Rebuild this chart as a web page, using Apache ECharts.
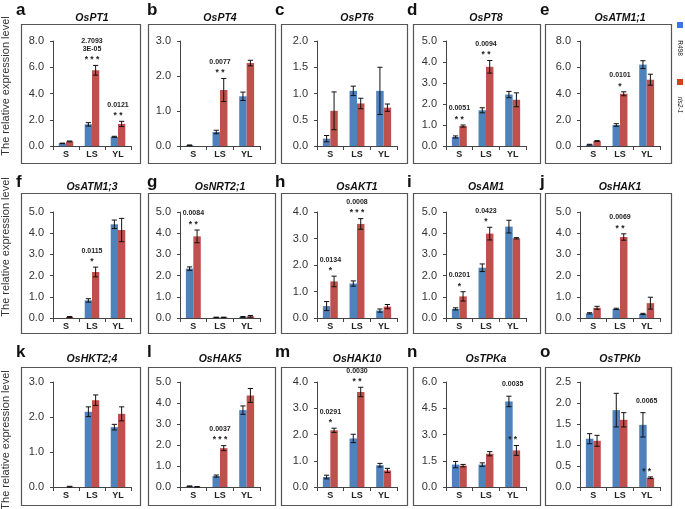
<!DOCTYPE html>
<html><head><meta charset="utf-8">
<script src="https://cdn.jsdelivr.net/npm/echarts@6/dist/echarts.min.js"></script>
<style>html,body{margin:0;padding:0;background:#fff}#c{width:685px;height:509px}</style>
</head><body><div id="c"></div>
<script>
const categories = ['S', 'LS', 'YL'];
const seriesNames = ['R498', 'rls2-1'];
const panelLetters = ['a','b','c','d','e','f','g','h','i','j','k','l','m','n','o'];
const geneNames = ['OsPT1','OsPT4','OsPT6','OsPT8','OsATM1;1','OsATM1;3','OsNRT2;1','OsAKT1','OsAM1','OsHAK1','OsHKT2;4','OsHAK5','OsHAK10','OsTPKa','OsTPKb'];
const yTitle = 'The relative expression level';

const r498Mean = [
  [0.20, 1.65, 0.70],
  [0.02, 0.40, 1.42],
  [0.14, 1.05, 1.05],
  [0.43, 1.70, 2.45],
  [0.10, 1.60, 6.20],
  [0.00, 0.83, 4.42],
  [2.33, 0.03, 0.05],
  [0.45, 1.30, 0.28],
  [0.43, 2.37, 4.31],
  [0.22, 0.43, 0.19],
  [0.00, 2.15, 1.71],
  [0.04, 0.52, 3.66],
  [0.38, 1.85, 0.83],
  [1.28, 1.28, 4.89],
  [1.15, 1.83, 1.48]
];
const r498Err = [
  [0.02, 0.13, 0.04],
  [0.01, 0.05, 0.12],
  [0.06, 0.09, 0.45],
  [0.05, 0.12, 0.15],
  [0.03, 0.10, 0.30],
  [0.00, 0.08, 0.20],
  [0.08, 0.01, 0.02],
  [0.17, 0.10, 0.06],
  [0.05, 0.18, 0.30],
  [0.03, 0.03, 0.03],
  [0.00, 0.14, 0.08],
  [0.01, 0.05, 0.20],
  [0.07, 0.16, 0.07],
  [0.18, 0.10, 0.30],
  [0.12, 0.40, 0.29]
];
const rls21Mean = [
  [0.35, 5.77, 1.68],
  [0.00, 1.60, 2.37],
  [0.67, 0.81, 0.73],
  [0.95, 3.77, 2.20],
  [0.38, 3.98, 5.05],
  [0.05, 2.17, 4.15],
  [3.85, 0.03, 0.08],
  [1.38, 3.55, 0.43],
  [1.02, 3.98, 3.76],
  [0.48, 3.82, 0.70],
  [0.01, 2.48, 2.09],
  [0.01, 1.85, 4.36],
  [2.16, 3.62, 0.63],
  [1.22, 1.90, 2.09],
  [1.10, 1.60, 0.22]
];
const rls21Err = [
  [0.03, 0.37, 0.20],
  [0.00, 0.33, 0.08],
  [0.36, 0.10, 0.07],
  [0.05, 0.30, 0.33],
  [0.03, 0.15, 0.42],
  [0.02, 0.23, 0.55],
  [0.30, 0.01, 0.04],
  [0.20, 0.20, 0.08],
  [0.22, 0.30, 0.03],
  [0.07, 0.15, 0.28],
  [0.01, 0.15, 0.20],
  [0.01, 0.12, 0.33],
  [0.08, 0.18, 0.08],
  [0.07, 0.12, 0.28],
  [0.13, 0.17, 0.02]
];
const yMax  = [8, 3, 2, 5, 8, 5, 5, 4, 5, 5, 3, 5, 4, 6, 2.5];
const yStep = [2, 1, 0.5, 1, 2, 1, 1, 1, 1, 1, 1, 1, 1, 1.5, 0.5];
// [panel, category index, p value (lines), stars]
const significance = [
  [0, 1, ['2.7093', '3E-05'], '* * *'],
  [0, 2, ['0.0121'], '* *'],
  [1, 1, ['0.0077'], '* *'],
  [3, 0, ['0.0051'], '* *'],
  [3, 1, ['0.0094'], '* *'],
  [4, 1, ['0.0101'], '*'],
  [5, 1, ['0.0115'], '*'],
  [6, 0, ['0.0084'], '* *'],
  [7, 0, ['0.0134'], '*'],
  [7, 1, ['0.0008'], '* * *'],
  [8, 0, ['0.0201'], '*'],
  [8, 1, ['0.0423'], '*'],
  [9, 1, ['0.0069'], '* *'],
  [11, 1, ['0.0037'], '* * *'],
  [12, 0, ['0.0291'], '*'],
  [12, 1, ['0.0030'], '* *'],
  [13, 2, ['0.0035'], '* *'],
  [14, 2, ['0.0065'], '* *']
];

// ---- layout / style ----
const FONT = '"Liberation Sans", Arial, sans-serif';
const INK = '#222';
const barColors = ['#4f81bd', '#c0504d'];
const legendColors = ['#3a76e3', '#d0441d'];
const colAxisLeft = [53, 180, 317, 446, 580];
const colAxisWidth = [78, 80, 80, 80, 80];
const rowTop = [41, 212, 382];
const rowBottom = [146, 318, 487];
const boxCols = [[21, 140], [148, 275], [281, 407], [413, 540], [545, 671]];
const boxRows = [[24, 163], [193, 333], [367, 505]];
const letterX = [16, 147, 275, 407, 540];
const letterY = [10, 182, 352];
const titleY = [18.5, 187, 359];
const yTitleY = [86, 247, 440];

const grids = [], xAxes = [], yAxes = [], series = [], graphics = [];

for (let i = 0; i < 15; i++) {
  const row = Math.floor(i / 5), col = i % 5;
  grids.push({
    left: colAxisLeft[col], width: colAxisWidth[col],
    top: rowTop[row], height: rowBottom[row] - rowTop[row],
    containLabel: false
  });
  xAxes.push({
    type: 'category', gridIndex: i, data: categories,
    axisLine: { lineStyle: { color: '#444', width: 1 } },
    axisTick: { show: true, length: 4, lineStyle: { color: '#444' } },
    axisLabel: { fontSize: 9, fontWeight: 'bold', color: INK, margin: 4, fontFamily: FONT },
    splitLine: { show: false }
  });
  yAxes.push({
    type: 'value', gridIndex: i, min: 0, max: yMax[i], interval: yStep[i],
    axisLine: { show: true, lineStyle: { color: '#444', width: 1 } },
    axisTick: { show: true, length: 3, lineStyle: { color: '#444' } },
    axisLabel: { fontSize: 11, color: '#333', margin: 9, fontFamily: FONT,
      formatter: v => v.toFixed(1) },
    splitLine: { show: false }
  });
  const means = [r498Mean[i], rls21Mean[i]];
  for (let s = 0; s < 2; s++) {
    series.push({
      type: 'bar', name: seriesNames[s], xAxisIndex: i, yAxisIndex: i,
      data: means[s], barWidth: '28%', barGap: '0%',
      itemStyle: { color: barColors[s] }, animation: false
    });
  }
  const errData = [];
  for (let c = 0; c < 3; c++) {
    errData.push([c, r498Mean[i][c], r498Err[i][c], -1]);
    errData.push([c, rls21Mean[i][c], rls21Err[i][c], 1]);
  }
  series.push({
    type: 'custom', xAxisIndex: i, yAxisIndex: i, data: errData,
    encode: { x: 0, y: 1 }, z: 5, animation: false, silent: true,
    itemStyle: { color: '#111' },
    renderItem: (params, api) => {
      const ci = api.value(0), m = api.value(1), e = api.value(2), side = api.value(3);
      if (!(e > 0)) return null;
      const band = api.size([1, 0])[0];
      const x = api.coord([ci, m])[0] + side * band * 0.14;
      const yT = api.coord([ci, m + e])[1];
      const yB = api.coord([ci, Math.max(0, m - e)])[1];
      const cap = 2.6;
      const ls = { stroke: '#111', lineWidth: 1 };
      return { type: 'group', children: [
        { type: 'line', shape: { x1: x, y1: yT, x2: x, y2: yB }, style: ls },
        { type: 'line', shape: { x1: x - cap, y1: yT, x2: x + cap, y2: yT }, style: ls },
        { type: 'line', shape: { x1: x - cap, y1: yB, x2: x + cap, y2: yB }, style: ls }
      ] };
    }
  });
  const annData = [];
  significance.forEach((a, k) => {
    if (a[0] === i) {
      const c = a[1];
      annData.push([c, rls21Mean[i][c] + rls21Err[i][c], r498Mean[i][c] + r498Err[i][c], k]);
    }
  });
  if (annData.length) {
    series.push({
      type: 'custom', xAxisIndex: i, yAxisIndex: i, data: annData,
      encode: { x: 0, y: 1 }, z: 6, animation: false, silent: true, clip: false,
      itemStyle: { color: INK },
      renderItem: (params, api) => {
        const ci = api.value(0);
        const ann = significance[api.value(3)];
        const redTop = api.coord([ci, api.value(1)])[1];
        const blueTop = api.coord([ci, api.value(2)])[1];
        const cx = api.coord([ci, 0])[0];
        const pCenter = Math.min(redTop - 16.5, blueTop - 12);
        const kids = [
          { type: 'text', x: cx, y: redTop - 1,
            style: { text: ann[3], align: 'center', verticalAlign: 'bottom',
              font: 'bold 8.5px ' + FONT, fill: INK } }
        ];
        const lines = ann[2];
        lines.forEach((t, j) => {
          kids.push({ type: 'text', x: cx, y: pCenter - (lines.length - 1 - j) * 7.5,
            style: { text: t, align: 'center', verticalAlign: 'middle',
              font: 'bold 7px ' + FONT, fill: INK } });
        });
        return { type: 'group', children: kids };
      }
    });
  }
  // panel frame, letter and title
  graphics.push({ type: 'rect', silent: true,
    shape: { x: boxCols[col][0] + 0.5, y: boxRows[row][0] + 0.5,
             width: boxCols[col][1] - boxCols[col][0], height: boxRows[row][1] - boxRows[row][0] },
    style: { fill: 'none', stroke: '#555', lineWidth: 1.2 } });
  graphics.push({ type: 'text', x: letterX[col], y: letterY[row], silent: true,
    style: { text: panelLetters[i], font: 'bold 17px ' + FONT, fill: '#111', align: 'left', verticalAlign: 'middle' } });
  graphics.push({ type: 'text', x: colAxisLeft[col] + colAxisWidth[col] / 2, y: titleY[row], silent: true,
    style: { text: geneNames[i], font: 'italic bold 10.5px ' + FONT, fill: '#111', align: 'center', verticalAlign: 'middle' } });
}

for (let r = 0; r < 3; r++) {
  graphics.push({ type: 'text', x: 6, y: yTitleY[r], rotation: Math.PI / 2, silent: true,
    style: { text: yTitle, font: '11px ' + FONT, fill: '#333', align: 'center', verticalAlign: 'middle' } });
}
// legend
const legendY = [[22, 48], [79, 105]];
for (let s = 0; s < 2; s++) {
  graphics.push({ type: 'rect', silent: true, shape: { x: 677, y: legendY[s][0], width: 6, height: 6 },
    style: { fill: legendColors[s] } });
  graphics.push({ type: 'text', x: 680, y: legendY[s][1], rotation: -Math.PI / 2, silent: true,
    style: { text: seriesNames[s], font: (s === 1 ? 'italic ' : '') + '6.5px ' + FONT, fill: INK,
             align: 'center', verticalAlign: 'middle' } });
}

const chart = echarts.init(document.getElementById('c'), null, { renderer: 'canvas' });
chart.setOption({
  animation: false,
  backgroundColor: '#fff',
  grid: grids, xAxis: xAxes, yAxis: yAxes, series: series, graphic: graphics
});
</script></body></html>
